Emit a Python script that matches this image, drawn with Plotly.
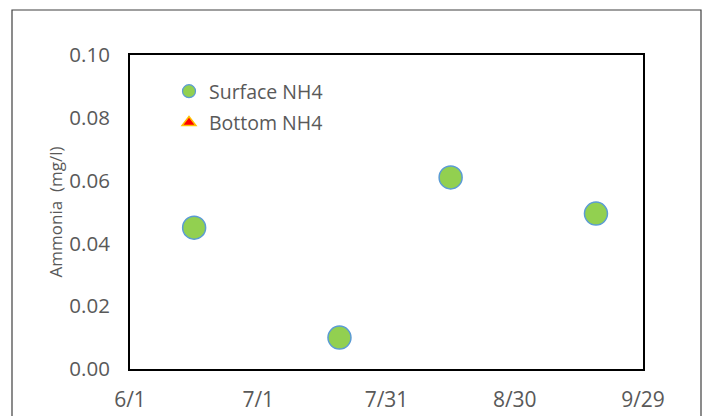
import plotly.graph_objects as go

# Data
surface_dates = ["2015-06-16", "2015-07-20", "2015-08-15", "2015-09-18"]
surface_nh4 = [0.045, 0.010, 0.061, 0.0495]
bottom_dates = []
bottom_nh4 = []

x_tick_vals = ["2015-06-01", "2015-07-01", "2015-07-31", "2015-08-30", "2015-09-29"]
x_tick_text = ["6/1", "7/1", "7/31", "8/30", "9/29"]
y_tick_vals = [0.0, 0.02, 0.04, 0.06, 0.08, 0.10]
y_tick_text = ["0.00", "0.02", "0.04", "0.06", "0.08", "0.10"]

FONT = "Open Sans"
GRAY = "#595959"

fig = go.Figure()

# Actual data traces (legend handled by small dummy traces)
fig.add_trace(go.Scatter(
    x=surface_dates, y=surface_nh4, mode="markers", name="Surface NH4",
    marker=dict(symbol="circle", size=23, color="#92D050",
                line=dict(color="#5B9BD5", width=1.5)),
    showlegend=False,
))
fig.add_trace(go.Scatter(
    x=bottom_dates, y=bottom_nh4, mode="markers", name="Bottom NH4",
    marker=dict(symbol="triangle-up", size=14, color="#FF0000",
                line=dict(color="#FFC000", width=1.5)),
    showlegend=False,
))
# Legend entries
fig.add_trace(go.Scatter(
    x=[None], y=[None], mode="markers", name="Surface NH4", legendgroup="a",
    marker=dict(symbol="circle", size=13, color="#92D050",
                line=dict(color="#5B9BD5", width=1.2)),
))
fig.add_trace(go.Scatter(
    x=[None], y=[None], mode="markers", name="Bottom NH4", legendgroup="b",
    marker=dict(symbol="triangle-up", size=12, color="#FF0000",
                line=dict(color="#FFC000", width=1.5)),
))

L, R, T, B = 130, 643, 55, 369
W, H = 705, 416
pw, ph = R - L, B - T

def px(x):
    return (x - L) / pw

def py(y):
    return (B - y) / ph

fig.update_layout(
    width=W, height=H,
    margin=dict(l=L, r=W - R, t=T, b=H - B, pad=0, autoexpand=False),
    paper_bgcolor="white", plot_bgcolor="white",
    font=dict(family=FONT, color=GRAY, size=15),
    legend=dict(x=px(169), y=py(72), xanchor="left", yanchor="top",
                bgcolor="rgba(0,0,0,0)", font=dict(size=19.5, color=GRAY, family=FONT),
                tracegroupgap=3, itemwidth=30),
    shapes=[dict(type="rect", xref="paper", yref="paper",
                 x0=px(12), x1=px(701), y0=py(10), y1=py(430),
                 line=dict(color="#404040", width=1.2), fillcolor="rgba(0,0,0,0)",
                 layer="below")],
)

fig.update_xaxes(
    type="date", range=["2015-06-01", "2015-09-29"],
    tickvals=x_tick_vals, ticktext=x_tick_text,
    showgrid=False, zeroline=False, ticks="", automargin=False,
    showline=True, mirror=True, linecolor="black", linewidth=2,
    tickfont=dict(size=21, color=GRAY, family=FONT), ticklabelstandoff=11,
)
fig.update_yaxes(
    range=[0, 0.10], tickvals=y_tick_vals, ticktext=y_tick_text,
    showgrid=False, zeroline=False, ticks="", automargin=False,
    showline=True, mirror=True, linecolor="black", linewidth=2,
    tickfont=dict(size=20.5, color=GRAY, family=FONT), ticklabelstandoff=14,
    title=dict(text="Ammonia  (mg/l)", font=dict(size=17, color=GRAY, family=FONT), standoff=2),
)

fig.write_html("out.html", config={"displayModeBar": False},
               post_script="document.body.style.margin='0';")
